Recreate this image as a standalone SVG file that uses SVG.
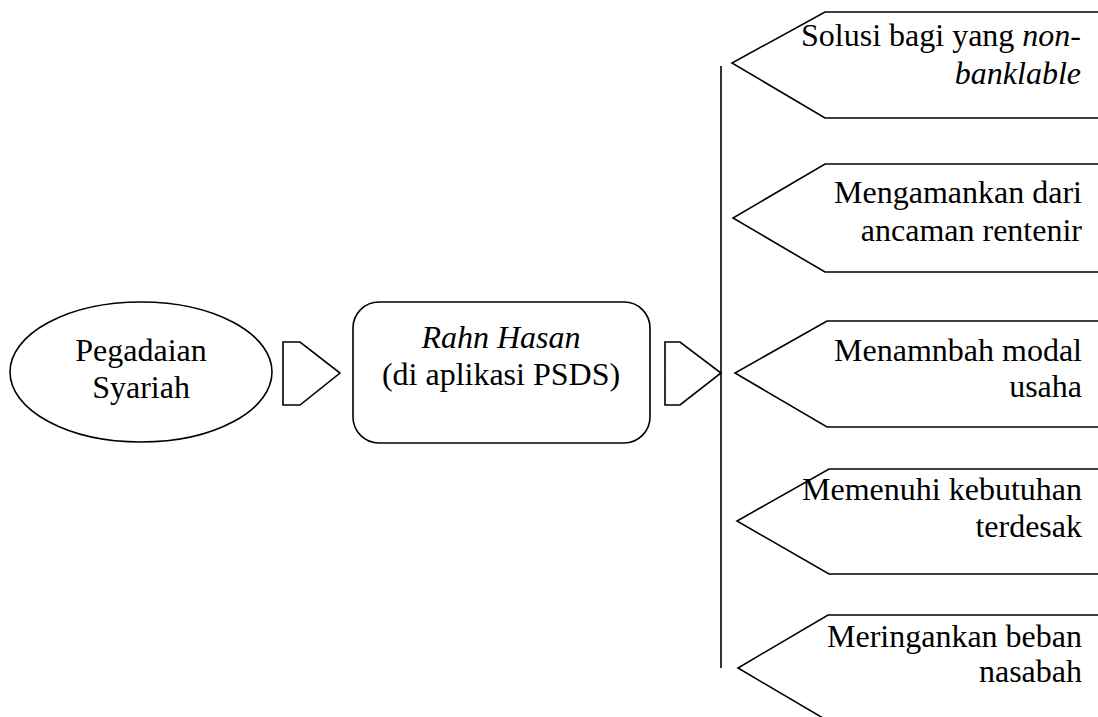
<svg xmlns="http://www.w3.org/2000/svg" width="1098" height="717" viewBox="0 0 1098 717">
<style>
.s{fill:#fff;stroke:#000;stroke-width:1.6}
.t{font-family:"Liberation Serif","Times New Roman",serif;font-size:32px;fill:#000}
.r{text-anchor:end}
.c{text-anchor:middle}
.i{font-style:italic}
</style>
<rect width="1098" height="717" fill="#fff"/>
<g id="pegadaian">
<ellipse class="s" cx="141" cy="372" rx="131" ry="70"/>
<text class="t c" x="141" y="361">Pegadaian</text>
<text class="t c" x="141" y="398">Syariah</text>
</g>
<g id="rahn">
<rect class="s" x="353" y="302" width="297" height="141" rx="26" ry="26"/>
<text class="t c i" x="501" y="348">Rahn Hasan</text>
<text class="t c" x="501" y="385">(di aplikasi PSDS)</text>
</g>
<g id="connectors">
<polygon class="s" points="283,342 300,342 340,373 300,405 283,405"/>
<polygon class="s" points="665,342 680,342 721,373 680,405 665,405"/>
<line x1="721" y1="66" x2="721" y2="668" stroke="#000" stroke-width="1.6"/>
</g>
<g id="c1">
<polygon class="s" points="1100,12 825,12 732,63 825,118 1100,118"/>
<text class="t r" x="1081" y="46">Solusi bagi yang <tspan class="i">non-</tspan></text>
<text class="t r i" x="1081" y="84">banklable</text>
</g>
<g id="c2">
<polygon class="s" points="1100,164 825,164 733,218 825,272 1100,272"/>
<text class="t r" x="1082" y="203">Mengamankan dari</text>
<text class="t r" x="1082" y="241">ancaman rentenir</text>
</g>
<g id="c3">
<polygon class="s" points="1100,321 827,321 735,373 827,427 1100,427"/>
<text class="t r" x="1082" y="361">Menamnbah modal</text>
<text class="t r" x="1082" y="397">usaha</text>
</g>
<g id="c4">
<polygon class="s" points="1100,469 829,469 737,521 829,574 1100,574"/>
<text class="t r" x="1082" y="500">Memenuhi kebutuhan</text>
<text class="t r" x="1082" y="537">terdesak</text>
</g>
<g id="c5">
<polygon class="s" points="1100,615 828,615 738,668 828,721 1100,721"/>
<text class="t r" x="1082" y="647">Meringankan beban</text>
<text class="t r" x="1082" y="682">nasabah</text>
</g>
</svg>
